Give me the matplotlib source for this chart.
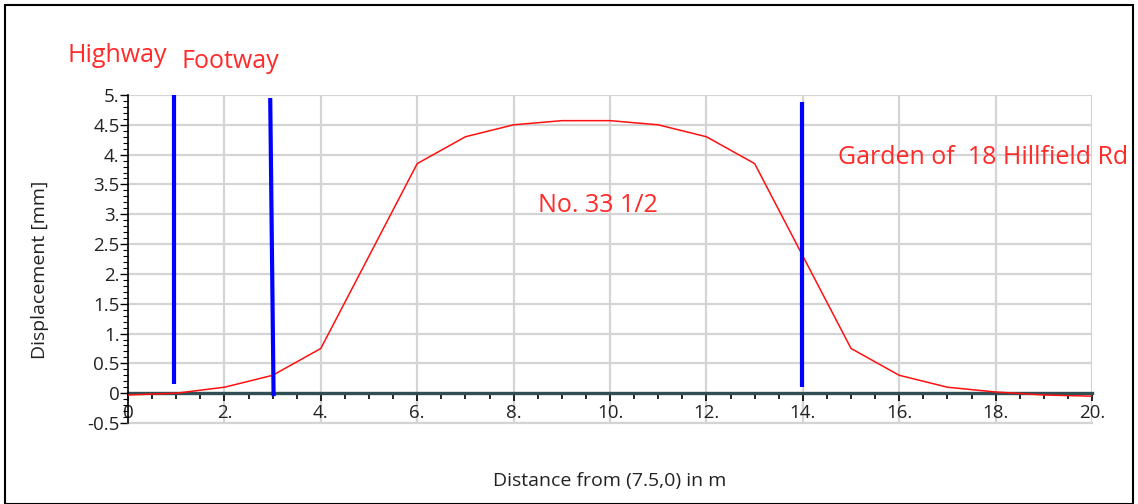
import matplotlib
matplotlib.use("Agg")

import matplotlib.pyplot as plt
import matplotlib.ticker as ticker
from matplotlib.patches import Rectangle

# ── data ─────────────────────────────────────────────────────────
distance = [0, 1, 2, 3, 4, 5, 6, 7, 8, 9, 10, 11, 12, 13, 14, 15, 16, 17, 18, 19, 20]
displacement = [-0.03, 0.0, 0.1, 0.3, 0.75, 2.3, 3.85, 4.3, 4.5, 4.57, 4.57,
                4.5, 4.3, 3.85, 2.3, 0.75, 0.3, 0.1, 0.02, -0.03, -0.05]

# boundary markers: (x_top, x_bottom, y_top, y_bottom)
boundary_x_top = [0.95, 2.95, 13.98]
boundary_x_bot = [0.95, 3.02, 13.98]
boundary_y_top = [5.0, 4.95, 4.88]
boundary_y_bot = [0.15, -0.05, 0.1]

labels = ["Highway", "Footway", "No. 33 1/2", "Garden of  18 Hillfield Rd"]

x_ticks = [0, 2, 4, 6, 8, 10, 12, 14, 16, 18, 20]
x_tick_labels = ["0", "2.", "4.", "6.", "8.", "10.", "12.", "14.", "16.", "18.", "20."]
y_ticks = [-0.5, 0, 0.5, 1, 1.5, 2, 2.5, 3, 3.5, 4, 4.5, 5]
y_tick_labels = ["-0.5", "0", "0.5", "1.", "1.5", "2.", "2.5", "3.", "3.5", "4.", "4.5", "5."]

# ── style ────────────────────────────────────────────────────────
plt.rcParams["font.family"] = ["Open Sans", "DejaVu Sans"]
red_txt = "#ff2a2a"
dark_txt = "#222222"

fig = plt.figure(figsize=(11.38, 5.04), dpi=100)
ax = fig.add_axes([0.1125, 0.1607, 0.8471, 0.6508])

ax.set_xlim(0, 20)
ax.set_ylim(-0.5, 5)

ax.grid(True, color="#d4d4d4", linewidth=1.6, zorder=0)
ax.set_axisbelow(True)

ax.plot(distance, displacement, color="#ff1010", linewidth=1.1, zorder=3)

for xt, xb, yt, yb in zip(boundary_x_top, boundary_x_bot, boundary_y_top, boundary_y_bot):
    ax.plot([xt, xb], [yt, yb], color="#0000ff", linewidth=3.0, zorder=4,
            solid_capstyle="butt")

# ── axes / ticks ─────────────────────────────────────────────────
for s in ("top", "right"):
    ax.spines[s].set_visible(False)
ax.spines["bottom"].set_position(("data", 0))
ax.spines["bottom"].set_color("#2f4f55")
ax.spines["bottom"].set_linewidth(2.4)
ax.spines["bottom"].set_zorder(2)
ax.spines["left"].set_color("black")
ax.spines["left"].set_linewidth(1.2)

ax.set_xticks(x_ticks)
ax.set_xticklabels(x_tick_labels)
ax.xaxis.set_minor_locator(ticker.MultipleLocator(0.5))
ax.set_yticks(y_ticks)
ax.set_yticklabels(y_tick_labels)
ax.yaxis.set_minor_locator(ticker.MultipleLocator(0.1))

ax.tick_params(axis="x", which="major", length=6, width=1.2, color="black",
               labelsize=13.5, pad=2, labelcolor=dark_txt)
ax.tick_params(axis="x", which="minor", length=4, width=1.2, color="black")
ax.tick_params(axis="y", which="major", length=6, width=1.0, color="black",
               labelsize=13.5, pad=0, labelcolor=dark_txt)
ax.tick_params(axis="y", which="minor", length=3.5, width=0.8, color="black")

# bottom gridline edge at -0.5
ax.axhline(-0.5, color="#d4d4d4", linewidth=1.6, zorder=1, clip_on=False)

fig.text(40 / 1138, 1 - 270 / 504, "Displacement [mm]", fontsize=14,
         color=dark_txt, rotation=90, ha="center", va="center")
fig.text(610 / 1138, 1 - 481 / 504, "Distance from (7.5,0) in m", fontsize=14,
         color=dark_txt, ha="center", va="center")

# ── annotations ──────────────────────────────────────────────────
fig.text(68 / 1138, 1 - 55 / 504, labels[0], fontsize=18, color=red_txt,
         ha="left", va="center")
fig.text(181 / 1138, 1 - 61 / 504, labels[1], fontsize=18, color=red_txt,
         ha="left", va="center")
ax.text(9.75, 3.15, labels[2], fontsize=18, color=red_txt, ha="center",
        va="center", zorder=5)
ax.text(14.73, 3.96, labels[3], fontsize=18, color=red_txt, ha="left",
        va="center", zorder=5, clip_on=False)

# outer frame
fig.patches.append(Rectangle((5 / 1138, 0), 1 - 10 / 1138, 1 - 5 / 504,
                             transform=fig.transFigure, fill=False,
                             edgecolor="black", linewidth=1.5))

fig.savefig("out.png", dpi=100)
